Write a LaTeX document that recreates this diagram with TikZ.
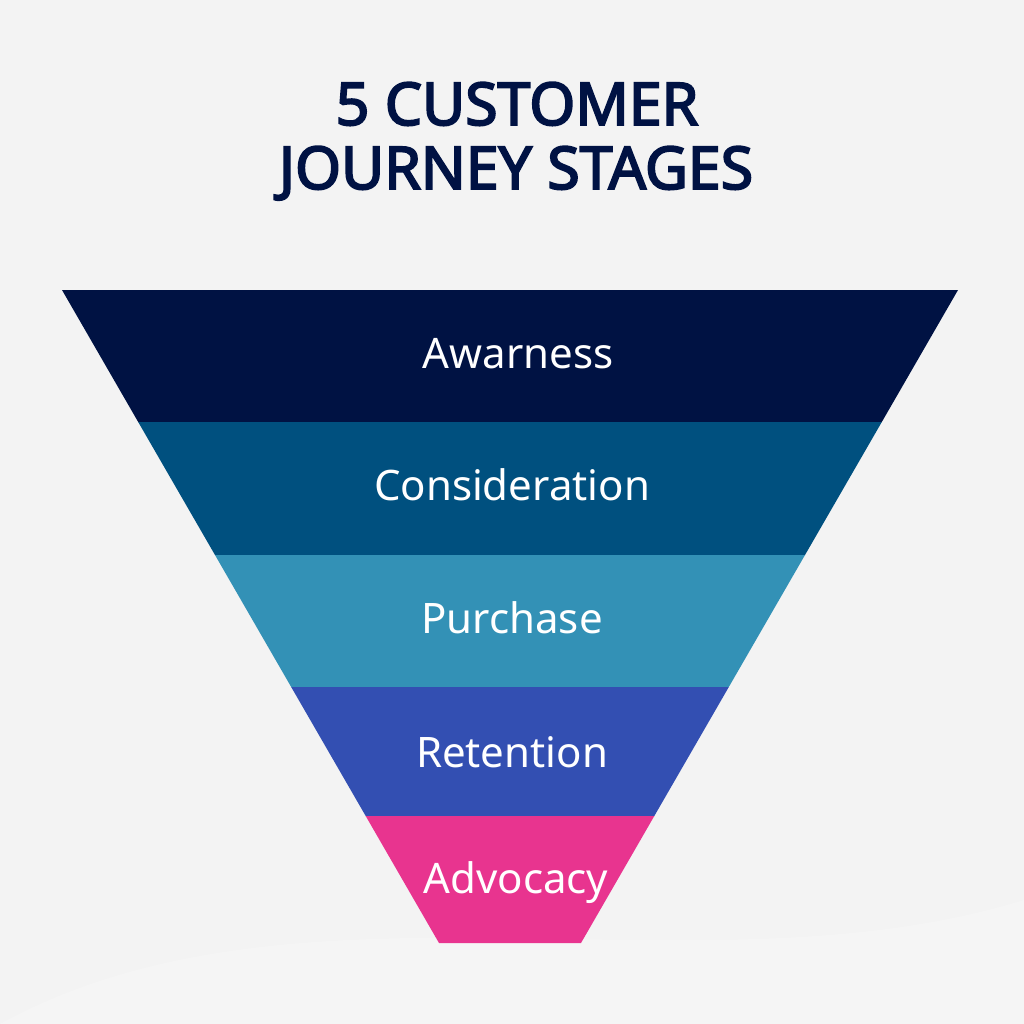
\documentclass[tikz,border=0pt]{standalone}
\usepackage{fontspec}
\setmainfont{Noto Sans}
\newfontfamily\titlefont{Noto Sans}[FakeBold=3.2]
\definecolor{bgc}{HTML}{F3F3F3}
\definecolor{navy}{HTML}{001243}
\definecolor{bandb}{HTML}{00507F}
\definecolor{bandc}{HTML}{3391B6}
\definecolor{bandd}{HTML}{334FB2}
\definecolor{bande}{HTML}{E8348F}
\tikzset{
  titletext/.style={text=navy, font=\titlefont\fontsize{59}{62}\selectfont, anchor=base, inner sep=0pt},
  bandlabel/.style={text=white, font=\fontsize{42}{44}\selectfont, anchor=base, inner sep=0pt},
}
\begin{document}
\begin{tikzpicture}[x=1pt,y=-1pt]
\fill[bgc] (0,0) rectangle (1024,1024);
\useasboundingbox (0,0) rectangle (1024,1024);
\fill[white, opacity=0.2] (0,1024) .. controls (300,860) and (700,1000) .. (1024,900) -- (1024,1024) -- cycle;
% bands
\fill[navy]  (62,290) -- (958,290) -- (881.8,422) -- (138.2,422) -- cycle;
\fill[bandb] (138.2,422) -- (881.8,422) -- (805,555) -- (215,555) -- cycle;
\fill[bandc] (215,555) -- (805,555) -- (728.8,687) -- (291.2,687) -- cycle;
\fill[bandd] (291.2,687) -- (728.8,687) -- (654.3,816) -- (365.7,816) -- cycle;
\fill[bande] (365.7,816) -- (654.3,816) -- (581,943) -- (439,943) -- cycle;
% title
\node[titletext] (t1) at (517,125) {5 CUSTOMER};
\node[titletext] (t2) at (516,189) {JOURNEY STAGES};
% labels
\node[bandlabel] (l1) at (518,368) {Awarness};
\node[bandlabel] (l2) at (512,500) {Consideration};
\node[bandlabel] (l3) at (512,633) {Purchase};
\node[bandlabel] (l4) at (512,767) {Retention};
\node[bandlabel] (l5) at (516,893) {Advocacy};
\end{tikzpicture}
\end{document}
